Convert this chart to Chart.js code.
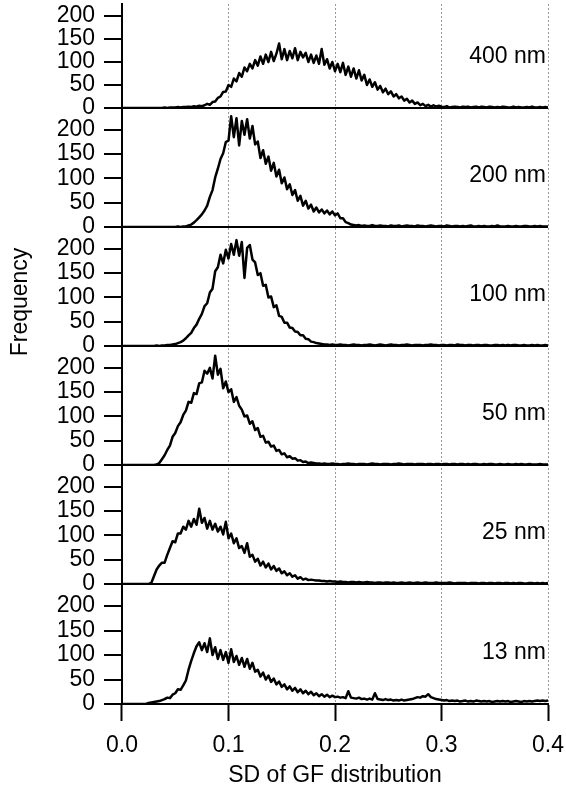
<!DOCTYPE html>
<html>
<head>
<meta charset="utf-8">
<script src="https://cdn.jsdelivr.net/npm/chart.js@4.4.1/dist/chart.umd.min.js"></script>
<style>
  html, body { margin: 0; padding: 0; background: #fff; }
  #wrap { width: 566px; height: 796px; }
</style>
</head>
<body>
<div id="wrap"><canvas id="sdChart" width="566" height="796"></canvas></div>
<script>
// histogram bin positions (SD of GF distribution)
const bins = [
  0, 0.0025, 0.005, 0.0075, 0.01, 0.0125, 0.015, 0.0175,
  0.02, 0.0225, 0.025, 0.0275, 0.03, 0.0325, 0.035, 0.0375,
  0.04, 0.0425, 0.045, 0.0475, 0.05, 0.0525, 0.055, 0.0575,
  0.06, 0.0625, 0.065, 0.0675, 0.07, 0.0725, 0.075, 0.0775,
  0.08, 0.0825, 0.085, 0.0875, 0.09, 0.0925, 0.095, 0.0975,
  0.1, 0.1025, 0.105, 0.1075, 0.11, 0.1125, 0.115, 0.1175,
  0.12, 0.1225, 0.125, 0.1275, 0.13, 0.1325, 0.135, 0.1375,
  0.14, 0.1425, 0.145, 0.1475, 0.15, 0.1525, 0.155, 0.1575,
  0.16, 0.1625, 0.165, 0.1675, 0.17, 0.1725, 0.175, 0.1775,
  0.18, 0.1825, 0.185, 0.1875, 0.19, 0.1925, 0.195, 0.1975,
  0.2, 0.2025, 0.205, 0.2075, 0.21, 0.2125, 0.215, 0.2175,
  0.22, 0.2225, 0.225, 0.2275, 0.23, 0.2325, 0.235, 0.2375,
  0.24, 0.2425, 0.245, 0.2475, 0.25, 0.2525, 0.255, 0.2575,
  0.26, 0.2625, 0.265, 0.2675, 0.27, 0.2725, 0.275, 0.2775,
  0.28, 0.2825, 0.285, 0.2875, 0.29, 0.2925, 0.295, 0.2975,
  0.3, 0.3025, 0.305, 0.3075, 0.31, 0.3125, 0.315, 0.3175,
  0.32, 0.3225, 0.325, 0.3275, 0.33, 0.3325, 0.335, 0.3375,
  0.34, 0.3425, 0.345, 0.3475, 0.35, 0.3525, 0.355, 0.3575,
  0.36, 0.3625, 0.365, 0.3675, 0.37, 0.3725, 0.375, 0.3775,
  0.38, 0.3825, 0.385, 0.3875, 0.39, 0.3925, 0.395, 0.3975,
  0.4
];

// counts per bin for each particle size
const nm400 = [
  0, 0, 0, 0, 0, 0, 0, 0,
  0, 0, 0, 0, 0, 0, 0, 0,
  1, 0, 1, 1, 1, 2, 1, 2,
  2, 3, 2, 4, 3, 5, 4, 6,
  9, 7, 13, 14, 22, 25, 35, 36,
  50, 46, 64, 58, 76, 68, 88, 80,
  96, 86, 104, 92, 112, 96, 116, 100,
  122, 102, 118, 140, 106, 128, 104, 124,
  108, 130, 104, 122, 110, 120, 100, 116,
  98, 114, 96, 128, 94, 106, 86, 100,
  80, 96, 78, 98, 72, 90, 68, 86,
  64, 82, 60, 72, 50, 62, 46, 56,
  40, 48, 34, 42, 30, 36, 25, 30,
  21, 25, 16, 20, 12, 16, 9, 12,
  6, 9, 4, 7, 3, 6, 3, 5,
  3, 2, 4, 1, 2, 3, 2, 1,
  3, 2, 3, 1, 2, 3, 1, 3,
  2, 1, 3, 2, 1, 2, 1, 3,
  2, 1, 1, 3, 1, 2, 1, 1,
  2, 1, 3, 1, 1, 2, 1, 2,
  1
];
const nm200 = [
  0, 0, 0, 0, 0, 0, 0, 0,
  0, 0, 0, 0, 0, 0, 0, 0,
  0, 0, 0, 0, 0, 1, 0, 1,
  1, 3, 5, 9, 14, 20, 26, 34,
  44, 62, 76, 102, 120, 140, 152, 175,
  178, 228, 185, 224, 168, 218, 190, 222,
  182, 208, 170, 176, 142, 158, 130, 145,
  116, 132, 104, 118, 90, 102, 78, 88,
  66, 76, 54, 64, 44, 54, 38, 46,
  32, 40, 30, 36, 28, 34, 26, 32,
  24, 28, 18, 18, 10, 8, 5, 4,
  3, 4, 2, 3, 2, 2, 4, 2,
  2, 3, 2, 2, 1, 3, 2, 2,
  3, 1, 2, 3, 2, 2, 1, 3,
  2, 2, 1, 2, 3, 2, 1, 2,
  2, 1, 3, 2, 1, 2, 2, 1,
  2, 1, 2, 3, 1, 1, 2, 1,
  2, 1, 1, 2, 1, 3, 1, 1,
  1, 2, 1, 1, 2, 1, 1, 2,
  2, 1, 1, 2, 1, 2, 1, 1,
  1
];
const nm100 = [
  0, 0, 0, 0, 0, 0, 0, 0,
  0, 0, 0, 0, 0, 1, 0, 1,
  1, 2, 2, 3, 4, 6, 8, 11,
  16, 22, 27, 37, 44, 56, 66, 82,
  88, 110, 118, 154, 162, 188, 170, 198,
  180, 210, 188, 218, 186, 214, 140, 202,
  208, 178, 172, 146, 150, 124, 126, 100,
  102, 80, 84, 62, 60, 48, 48, 38,
  37, 30, 29, 22, 22, 15, 14, 9,
  8, 6, 5, 4, 3, 3, 2, 3,
  2, 2, 3, 2, 2, 1, 2, 3,
  2, 2, 1, 2, 2, 3, 2, 1,
  2, 3, 2, 1, 2, 3, 2, 2,
  1, 2, 2, 3, 2, 1, 2, 2,
  2, 1, 2, 2, 3, 2, 2, 1,
  2, 2, 1, 2, 2, 1, 3, 2,
  2, 1, 2, 2, 1, 2, 2, 1,
  2, 2, 1, 1, 2, 2, 1, 2,
  1, 2, 1, 2, 2, 1, 1, 2,
  1, 1, 2, 1, 2, 1, 1, 2,
  1
];
const nm50 = [
  0, 0, 0, 0, 0, 0, 0, 0,
  0, 0, 0, 0, 0, 1, 4, 12,
  20, 31, 40, 58, 66, 80, 88, 103,
  112, 130, 128, 148, 146, 168, 170, 194,
  188, 200, 178, 225, 186, 198, 158, 172,
  150, 156, 130, 140, 122, 114, 100, 102,
  85, 90, 72, 76, 58, 60, 46, 48,
  38, 40, 29, 31, 22, 24, 16, 18,
  13, 14, 9, 10, 6, 7, 4, 5,
  4, 3, 3, 2, 3, 2, 2, 3,
  2, 2, 1, 2, 2, 3, 2, 2,
  1, 2, 2, 2, 1, 2, 3, 2,
  2, 1, 2, 2, 2, 1, 2, 2,
  3, 2, 1, 2, 2, 2, 1, 2,
  2, 2, 1, 2, 2, 1, 2, 2,
  1, 2, 2, 1, 2, 2, 1, 2,
  2, 1, 2, 1, 2, 2, 1, 1,
  2, 1, 2, 2, 1, 1, 2, 1,
  1, 2, 1, 1, 2, 1, 2, 1,
  1, 2, 1, 1, 1, 2, 1, 1,
  1
];
const nm25 = [
  0, 0, 0, 0, 0, 0, 0, 0,
  0, 0, 0, 2, 16, 30, 38, 44,
  44, 60, 74, 88, 86, 104, 104, 118,
  112, 130, 118, 134, 122, 155, 126, 136,
  114, 130, 112, 124, 108, 118, 102, 128,
  94, 104, 84, 94, 74, 78, 64, 84,
  56, 60, 46, 52, 38, 46, 34, 42,
  30, 37, 27, 32, 22, 26, 18, 22,
  15, 18, 11, 14, 9, 11, 8, 9,
  8, 7, 7, 6, 6, 5, 6, 5,
  5, 4, 5, 4, 4, 3, 4, 4,
  3, 4, 3, 3, 4, 3, 3, 2,
  3, 3, 2, 3, 3, 2, 3, 2,
  2, 3, 2, 2, 3, 2, 2, 3,
  2, 2, 3, 2, 2, 2, 3, 2,
  2, 2, 2, 3, 2, 1, 2, 2,
  2, 2, 1, 2, 2, 2, 1, 2,
  2, 1, 2, 2, 1, 2, 2, 1,
  2, 2, 1, 2, 1, 2, 2, 1,
  1, 2, 2, 1, 2, 1, 2, 1,
  2
];
const nm13 = [
  0, 0, 0, 0, 0, 0, 0, 0,
  0, 0, 2, 3, 4, 5, 6, 8,
  10, 13, 12, 19, 22, 30, 29, 38,
  48, 70, 88, 104, 118, 126, 110, 124,
  106, 134, 100, 116, 92, 110, 90, 106,
  84, 112, 86, 98, 80, 94, 76, 92,
  72, 84, 66, 70, 56, 64, 50, 58,
  45, 52, 40, 46, 35, 40, 30, 36,
  27, 33, 24, 30, 22, 27, 20, 25,
  18, 22, 16, 20, 15, 19, 14, 17,
  14, 15, 13, 14, 12, 26, 13, 12,
  11, 13, 10, 11, 9, 11, 9, 22,
  10, 9, 8, 10, 8, 9, 7, 8,
  7, 9, 7, 8, 9, 10, 12, 14,
  13, 16, 15, 20, 14, 12, 10, 9,
  8, 7, 8, 6, 7, 6, 7, 5,
  6, 7, 5, 6, 5, 7, 6, 5,
  6, 5, 6, 4, 5, 6, 5, 6,
  5, 6, 4, 5, 6, 5, 4, 6,
  5, 6, 5, 6, 7, 6, 7, 6,
  7
];

const panelLabels = ["400 nm", "200 nm", "100 nm", "50 nm", "25 nm", "13 nm"];
const panelSeries = [nm400, nm200, nm100, nm50, nm25, nm13];
const panelMax = [226, 245, 245, 245, 245, 245];
const yTicks = [0, 50, 100, 150, 200];
const xTicks = [0, 0.1, 0.2, 0.3, 0.4];

const FONT = '"Liberation Sans", Arial, sans-serif';
Chart.defaults.font.family = FONT;
Chart.defaults.font.size = 23;
Chart.defaults.color = "#000";

// relative panel heights in the stack (top panel is a little shorter)
const panelHeights = [104, 119, 119, 119, 119, 120];

const datasets = panelSeries.map((vals, i) => ({
  label: panelLabels[i],
  data: bins.map((x, j) => ({ x: x, y: vals[j] })),
  yAxisID: "p" + i,
  borderColor: "#000",
  borderWidth: 2.5,
  borderJoinStyle: "round",
  pointRadius: 0,
  tension: 0,
  fill: false
}));

const scales = {
  x: {
    type: "linear",
    position: "bottom",
    min: 0,
    max: 0.4,
    afterBuildTicks: s => { s.ticks = xTicks.map(v => ({ value: v })); },
    afterFit: s => { s.height = 92; s.paddingLeft = 0; s.paddingRight = 0; },
    ticks: { padding: 11, maxRotation: 0, autoSkip: false, callback: v => v.toFixed(1) },
    grid: {
      color: c => (c.tick && c.tick.value === 0) ? "rgba(0,0,0,0)" : "#9a9a9a",
      lineWidth: 1,
      tickColor: "#000",
      tickWidth: 2,
      tickLength: 17
    },
    border: { color: "#000", width: 2, dash: [2, 2] },
    title: { display: true, text: "SD of GF distribution", padding: { top: 2, bottom: 7 } }
  }
};

panelSeries.forEach((vals, i) => {
  scales["p" + i] = {
    type: "linear",
    position: "left",
    stack: "panels",
    stackWeight: panelHeights[i],
    weight: panelSeries.length - i,
    min: 0,
    max: panelMax[i],
    afterBuildTicks: s => { s.ticks = yTicks.map(v => ({ value: v })); },
    afterFit: s => { s.width = 122; s.paddingTop = 0; s.paddingBottom = 0; },
    ticks: { padding: 9, autoSkip: false },
    grid: {
      color: c => (c.tick && c.tick.value === 0) ? "#000" : "rgba(0,0,0,0)",
      lineWidth: 2,
      tickColor: "#000",
      tickWidth: 2,
      tickLength: 18
    },
    border: { color: "#000", width: 2 }
  };
});

// size labels inside each panel and the shared y title
const panelText = {
  id: "panelText",
  afterDatasetsDraw(chart) {
    const { ctx, chartArea } = chart;
    ctx.save();
    ctx.fillStyle = "#000";
    ctx.font = "23px " + FONT;
    ctx.textAlign = "right";
    ctx.textBaseline = "middle";
    panelLabels.forEach((label, i) => {
      const s = chart.scales["p" + i];
      ctx.fillText(label, chartArea.right - 2, s.bottom - 51);
    });
    ctx.translate(21, 302);
    ctx.rotate(-Math.PI / 2);
    ctx.textAlign = "center";
    ctx.fillText("Frequency", 0, 0);
    ctx.restore();
  }
};

new Chart(document.getElementById("sdChart").getContext("2d"), {
  type: "line",
  data: { datasets: datasets },
  options: {
    responsive: false,
    animation: false,
    devicePixelRatio: 1,
    layout: { padding: { top: 4, right: 18, bottom: 0, left: 0 } },
    plugins: { legend: { display: false }, tooltip: { enabled: false } },
    scales: scales
  },
  plugins: [panelText]
});
</script>
</body>
</html>
